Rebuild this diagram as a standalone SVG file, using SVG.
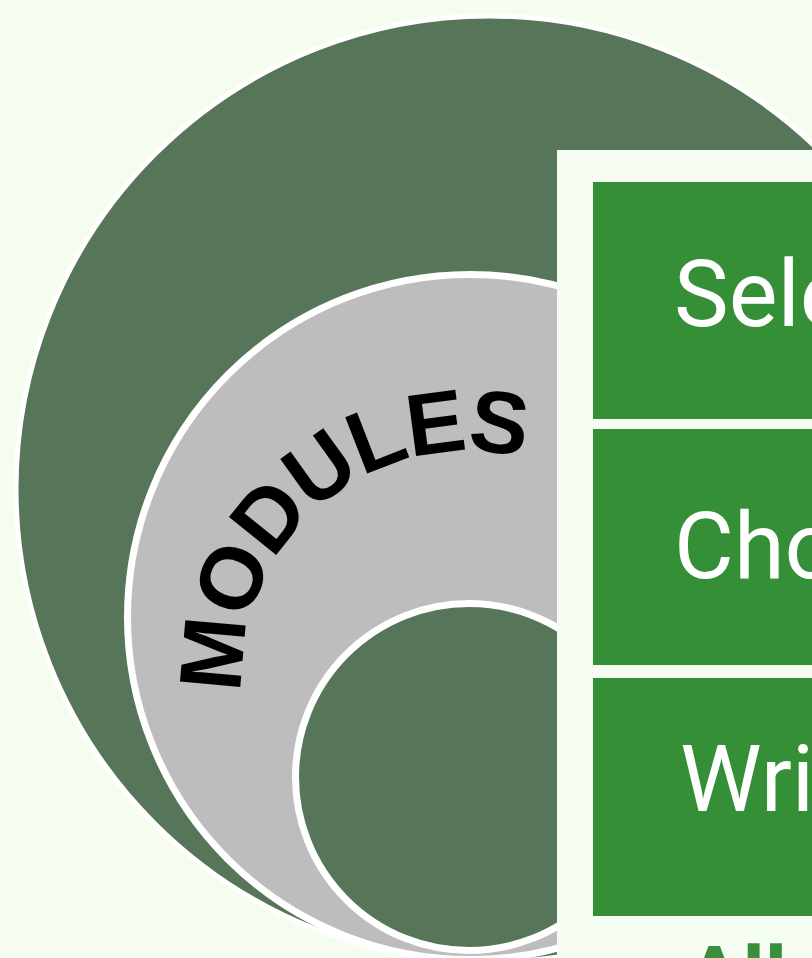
<svg xmlns="http://www.w3.org/2000/svg" width="812" height="958" viewBox="0 0 812 958">
  <style>
    .dark { fill: #577659; stroke: #ffffff; }
    .ring { fill: #bdbdbd; stroke: #ffffff; }
    .box { fill: #348f37; }
    .boxtext { font-family: Roboto, "Liberation Sans", Arial, sans-serif; font-size: 92px; fill: #ffffff; }
    .arc { font-family: "Liberation Sans", Arial, sans-serif; font-size: 88px; font-weight: bold; fill: #000000; letter-spacing: -2px; }
    .all { font-family: Roboto, "Liberation Sans", Arial, sans-serif; font-size: 84px; font-weight: bold; fill: #3a8f3d; }
  </style>
  <defs>
    <path id="modulesArc" d="M 255.6 754.3 A 226 226 0 0 1 390.7 464.6 A 226 226 0 0 1 680.4 599.7"/>
  </defs>
  <rect x="0" y="0" width="812" height="958" fill="#f5fdf1"/>

  <g id="outer-circle">
    <circle class="dark" cx="489" cy="489" r="473" stroke-width="5"/>
  </g>
  <g id="modules-ring">
    <circle class="ring" cx="470" cy="617" r="342.5" stroke-width="7"/>
    <text class="arc"><textPath href="#modulesArc" startOffset="63">MODULES</textPath></text>
  </g>
  <g id="inner-circle">
    <circle class="dark" cx="469" cy="777" r="173.5" stroke-width="7"/>
  </g>

  <g id="panel">
    <rect x="557" y="150" width="300" height="850" fill="#f6fdf2"/>
  </g>
  <g id="box-select">
    <rect class="box" x="593" y="182" width="260" height="237"/>
    <text class="boxtext" x="674" y="326">Sele</text>
  </g>
  <g id="box-choose">
    <rect class="box" x="593" y="429" width="260" height="236"/>
    <text class="boxtext" x="674" y="578">Cho</text>
  </g>
  <g id="box-write">
    <rect class="box" x="593" y="678" width="260" height="238"/>
    <text class="boxtext" x="680" y="811">Writ</text>
  </g>
  <g id="all-label">
    <text class="all" x="686" y="1006">All</text>
  </g>
  <g id="connectors"/>
</svg>
